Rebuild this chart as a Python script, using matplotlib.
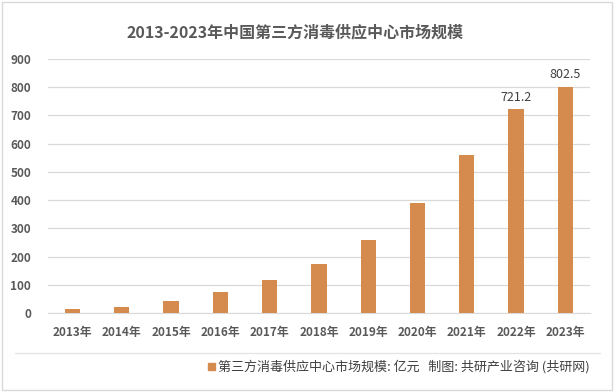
import matplotlib
matplotlib.use('Agg')
import matplotlib.pyplot as plt
from matplotlib.patches import Rectangle
from matplotlib.lines import Line2D

plt.rcParams['font.family'] = ['Noto Sans CJK SC', 'DejaVu Sans']

# Данные
years = ['2013年', '2014年', '2015年', '2016年', '2017年', '2018年',
         '2019年', '2020年', '2021年', '2022年', '2023年']
values = [14, 21, 42, 75, 117, 174, 259, 390, 560, 721.2, 802.5]
labeled = {9: '721.2', 10: '802.5'}

title = '2013-2023年中国第三方消毒供应中心市场规模'
legend_text = '第三方消毒供应中心市场规模: 亿元   制图: 共研产业咨询 (共研网)'

bar_color = '#D48B4D'
text_color = '#595959'
grid_color = '#D9D9D9'

fig = plt.figure(figsize=(6.14, 3.92), dpi=100)
ax = fig.add_axes([0.078, 0.2015, 0.883, 0.648])

x = range(len(years))
ax.bar(x, values, width=0.31, color=bar_color, zorder=3)

for i, lab in labeled.items():
    ax.text(i, values[i] + 18, lab, ha='center', va='bottom',
            fontsize=9, color='#404040', fontweight='medium')

ax.set_ylim(0, 900)
ax.set_xlim(-0.5, len(years) - 0.5)
ax.set_yticks(range(0, 1000, 100))
ax.set_xticks(list(x))
ax.set_xticklabels(years)
ax.tick_params(axis='both', length=0, labelsize=8.5, colors=text_color)
ax.tick_params(axis='x', pad=9)
ax.tick_params(axis='y', pad=12)
for lab in ax.get_xticklabels() + ax.get_yticklabels():
    lab.set_fontweight('semibold')
ax.yaxis.grid(True, color=grid_color, linewidth=0.9, zorder=0)
for s in ['top', 'right', 'left']:
    ax.spines[s].set_visible(False)
ax.spines['bottom'].set_color(grid_color)

fig.text(0.48, 0.918, title, ha='center', va='center', fontsize=11.5,
         fontweight='bold', color=text_color)

# Линия под осью и легенда
fig.add_artist(Line2D([15 / 614, 600 / 614], [1 - 353 / 392] * 2,
                      color='#E3E3E3', linewidth=0.9))
fig.add_artist(Rectangle((208 / 614, 1 - 370 / 392), 7 / 614, 7 / 392,
                         color=bar_color, transform=fig.transFigure))
fig.text(218 / 614, 1 - 366.5 / 392, legend_text, ha='left', va='center',
         fontsize=9.4, fontweight='medium', color='#404040')

# Рамка
fig.add_artist(Rectangle((2 / 614, 2 / 392), 610 / 614, 388 / 392,
                         fill=False, edgecolor='#D9D9D9', linewidth=1,
                         transform=fig.transFigure))

fig.savefig('out.png', dpi=100)
